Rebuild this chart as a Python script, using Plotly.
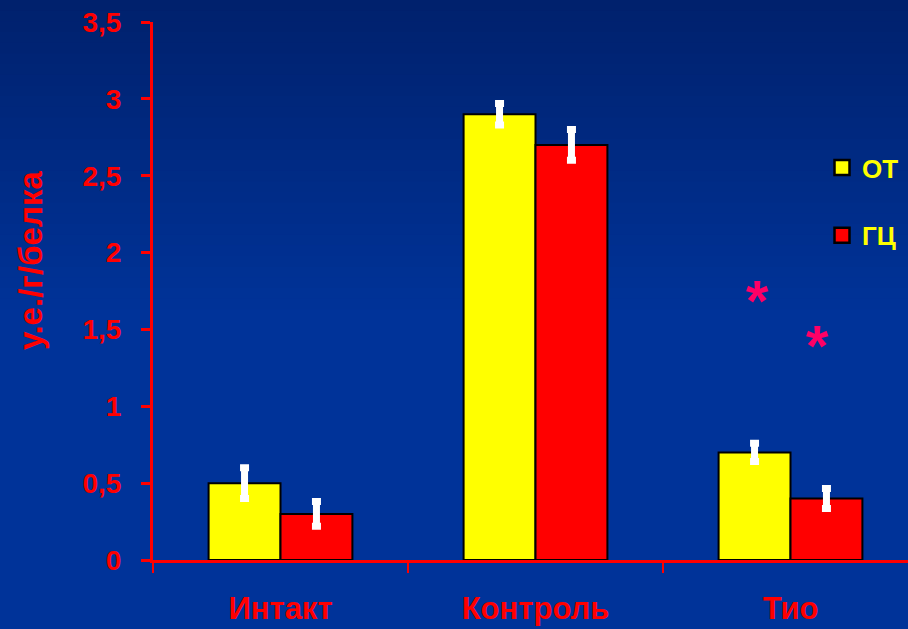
import plotly.graph_objects as go

# Data
categories = ["Интакт", "Контроль", "Тио"]
series_names = ["ОТ", "ГЦ"]
values_ot = [0.5, 2.9, 0.7]
values_gc = [0.3, 2.7, 0.4]
err_ot = [0.10, 0.07, 0.06]
err_gc = [0.08, 0.10, 0.065]
y_tickvals = [0, 0.5, 1, 1.5, 2, 2.5, 3, 3.5]
y_ticktext = ["0", "0,5", "1", "1,5", "2", "2,5", "3", "3,5"]

RED = "#ff0000"
YELLOW = "#ffff00"
STAR = "#ff0066"
FONT = "Arial, Liberation Sans, sans-serif"

W, H = 908, 629
ML, MR, MT, MB = 153, 0, 22, 69
plot_w = W - ML - MR
plot_h = H - MT - MB

fig = go.Figure()

bar_w = 0.282
series = [
    (series_names[0], values_ot, err_ot, YELLOW),
    (series_names[1], values_gc, err_gc, RED),
]
for name, vals, errs, col in series:
    fig.add_trace(go.Bar(
        x=categories, y=vals, name=name, width=bar_w,
        marker=dict(color=col, line=dict(color="black", width=2)),
        error_y=dict(type="data", array=errs, visible=True,
                     color="white", thickness=7, width=4.5),
        legendgroup=name, showlegend=False,
    ))

# legend entries: square swatches with a black outline
for name, _, _, col in series:
    fig.add_trace(go.Scatter(
        x=[None], y=[None], mode="markers", name=name, legendgroup=name,
        marker=dict(symbol="square", size=15, color=col,
                    line=dict(color="black", width=2.5)),
    ))

# vertical background gradient (darker at the top)
top = (0x00, 0x21, 0x6d)
bot = (0x00, 0x33, 0x99)
n_strips = 30
grad_px = 320
shapes = []
for i in range(n_strips):
    t = i / (n_strips - 1)
    c = tuple(round(top[k] + (bot[k] - top[k]) * t) for k in range(3))
    y0_px = i * grad_px / n_strips
    y1_px = (i + 1) * grad_px / n_strips + 1
    shapes.append(dict(
        type="rect", xref="paper", yref="paper", layer="below",
        x0=-ML / plot_w - 0.01, x1=1.01,
        y0=(H - MB - y1_px) / plot_h, y1=(H - MB - y0_px) / plot_h,
        fillcolor="rgb(%d,%d,%d)" % c, line=dict(width=0),
    ))

annotations = [
    dict(text="у.е./г/белка", xref="paper", yref="paper",
         x=(30 - ML) / plot_w, y=(H - MB - 261) / plot_h,
         xanchor="center", yanchor="middle", textangle=-90, showarrow=False,
         font=dict(family=FONT, size=33, color=RED, weight="bold")),
    dict(text="*", x="Тио", y=1.737, xref="x", yref="y", xshift=-33.5, yshift=-7,
         showarrow=False, font=dict(family=FONT, size=58, color=STAR, weight="bold")),
    dict(text="*", x="Тио", y=1.444, xref="x", yref="y", xshift=26.5, yshift=-7,
         showarrow=False, font=dict(family=FONT, size=58, color=STAR, weight="bold")),
]

fig.update_layout(
    width=W, height=H,
    margin=dict(l=ML, r=MR, t=MT, b=MB, pad=0),
    paper_bgcolor="#003399",
    plot_bgcolor="rgba(0,0,0,0)",
    barmode="group", bargap=0.436, bargroupgap=0,
    shapes=shapes,
    annotations=annotations,
    showlegend=True,
    legend=dict(
        x=(822 - ML) / plot_w, y=(H - MB - 144) / plot_h,
        xanchor="left", yanchor="top",
        bgcolor="rgba(0,0,0,0)", borderwidth=0,
        font=dict(family=FONT, size=26, color=YELLOW, weight="bold"),
        tracegroupgap=31, traceorder="grouped", itemwidth=30,
    ),
    xaxis=dict(
        type="category", range=[-0.5, -0.5 + plot_w / 255],
        showline=True, linecolor=RED, linewidth=3,
        ticks="outside", tickson="boundaries", ticklen=10, tickwidth=2, tickcolor=RED,
        showgrid=False, zeroline=False,
        tickfont=dict(family=FONT, size=31, color=RED, weight="bold"),
        ticklabelstandoff=19,
    ),
    yaxis=dict(
        range=[0, 3.5], tickvals=y_tickvals, ticktext=y_ticktext,
        showline=True, linecolor=RED, linewidth=3,
        ticks="outside", ticklen=9, tickwidth=3, tickcolor=RED,
        showgrid=False, zeroline=False,
        tickfont=dict(family=FONT, size=28, color=RED, weight="bold"),
        ticklabelstandoff=14,
    ),
)

fig.write_html("out.html")
